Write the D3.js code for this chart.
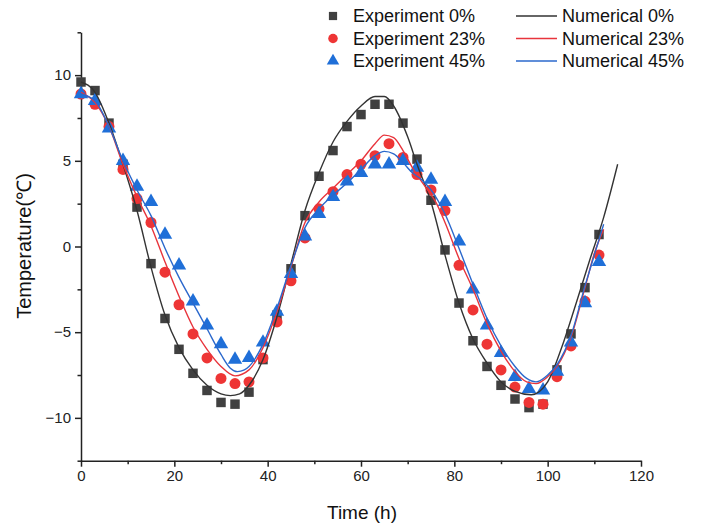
<!DOCTYPE html>
<html><head><meta charset="utf-8">
<script src="https://cdn.jsdelivr.net/npm/d3@7"></script>
<style>body{margin:0;background:#fff;} svg{display:block;}</style>
</head><body>
<svg id="c" width="703" height="523"></svg>
<script>
// ---- data ----
const expTime = [0,3,6,9,12,15,18,21,24,27,30,33,36,39,42,45,48,51,54,57,60,63,66,69,72,75,78,81,84,87,90,93,96,99,102,105,108,111];
const exp0  = [9.6,9.1,7.2,4.8,2.3,-1.0,-4.2,-6.0,-7.4,-8.4,-9.1,-9.2,-8.5,-6.6,-4.0,-1.3,1.8,4.1,5.6,7.0,7.7,8.3,8.3,7.2,5.1,2.7,-0.2,-3.3,-5.5,-7.0,-8.1,-8.9,-9.4,-9.2,-7.2,-5.1,-2.4,0.7];
const exp23 = [8.9,8.3,7.0,4.5,2.8,1.4,-1.5,-3.4,-5.1,-6.5,-7.7,-8.0,-7.9,-6.5,-4.4,-2.0,0.5,2.2,3.2,4.2,4.8,5.3,6.0,5.2,4.2,3.3,2.1,-1.1,-3.7,-5.7,-7.2,-8.2,-9.1,-9.2,-7.6,-5.8,-3.2,-0.5];
const exp45 = [8.9,8.5,6.9,5.0,3.5,2.6,0.7,-1.1,-3.2,-4.6,-5.7,-6.6,-6.5,-5.6,-3.8,-1.6,0.6,1.9,2.9,3.8,4.3,4.8,4.8,5.0,4.6,3.9,2.6,0.3,-2.5,-4.6,-6.2,-7.6,-8.3,-8.4,-7.3,-5.6,-3.3,-0.9];

const numTime0 = [0,3,6,9,12,15,18,21,24,27,30,32,34,36,39,42,45,48,51,54,57,60,63,65,67,70,72,75,78,81,84,87,90,93,96.5,100,103,106,109,112,115];
const num0     = [9.6,9.0,7.2,4.8,2.1,-1.2,-4.0,-5.9,-7.2,-8.1,-8.6,-8.7,-8.6,-8.1,-6.6,-4.1,-1.0,2.1,4.3,6.1,7.3,8.2,8.75,8.75,8.2,6.4,4.8,2.6,-0.5,-3.3,-5.4,-6.8,-7.9,-8.45,-8.65,-7.9,-5.9,-3.4,-0.8,1.7,4.8];
const numTime23 = [0,3,6,9,12,15,18,21,24,27,30,33,36,39,42,45,48,51,54,57,60,63,65,67,69,71,74,76,78,81,84,87,90,93,95.5,97.5,100,102,105,108,110,112];
const num23     = [9.0,8.4,7.0,4.8,2.9,1.2,-0.9,-2.9,-4.7,-6.0,-7.0,-7.55,-7.2,-5.9,-3.8,-1.2,1.4,2.6,3.4,4.2,5.0,6.0,6.5,6.35,5.6,4.6,3.4,2.6,1.4,-0.7,-2.5,-4.5,-6.1,-7.3,-7.9,-8.0,-7.6,-7.0,-5.3,-2.4,-0.4,1.0];
const numTime45 = [0,3,6,9,12,15,18,21,24,27,30,32,33.5,35,36,39,42,45,48,51,54,57,60,63,65,67,69,71,73,75,78,81,84,87,90,93,95.5,97.5,100,102,105,108,110,112];
const num45     = [8.9,8.5,7.0,5.0,3.3,1.8,-0.1,-1.8,-3.3,-4.8,-6.3,-7.1,-7.3,-7.2,-7.0,-5.7,-3.6,-1.1,1.1,2.2,3.0,3.7,4.5,5.3,5.55,5.4,4.9,4.3,3.9,3.3,1.9,-0.1,-2.2,-4.2,-5.8,-7.0,-7.7,-7.9,-7.5,-6.9,-5.2,-2.3,-0.5,1.3];

const xTicks = [0,20,40,60,80,100,120];
const yTicks = [-10,-5,0,5,10];
const expLabels = ["Experiment 0%","Experiment 23%","Experiment 45%"];
const numLabels = ["Numerical 0%","Numerical 23%","Numerical 45%"];
const xTitle = "Time (h)";
const yTitle = "Temperature(\u2103)";

// ---- style ----
const colors = ["#404040","#ee3535","#1f6fd8"];
const lineColors = ["#333333","#e8343c","#2b68cc"];
const font = "'Liberation Sans', Arial, sans-serif";

const svg = d3.select("#c");
const x = d3.scaleLinear().domain([0,120]).range([81,641]);
const y = d3.scaleLinear().domain([-12.5,12.5]).range([460.7,32.3]);

const g = svg.append("g");

// axes
const xAxis = d3.axisBottom(x).tickValues(xTicks).tickSize(6).tickPadding(4).tickFormat(d3.format("d"));
const xMinor = d3.axisBottom(x).tickValues(d3.range(10,120,20)).tickSize(3.5).tickFormat("");
const yAxis = d3.axisLeft(y).tickValues(yTicks).tickSize(6).tickPadding(4).tickFormat(d=>d<0?"\u2212"+Math.abs(d):d);
const yMinor = d3.axisLeft(y).tickValues([-12.5,-7.5,-2.5,2.5,7.5,12.5]).tickSize(3.5).tickFormat("");

function styleAxis(sel){
  sel.select(".domain").attr("stroke","#222").attr("stroke-width",1.5);
  sel.selectAll(".tick line").attr("stroke","#222").attr("stroke-width",1.5);
  sel.selectAll(".tick text").attr("fill","#222").style("font-family",font).style("font-size","15px");
}
const gx = g.append("g").attr("transform",`translate(0,${y(-12.5)})`).call(xAxis.tickSizeOuter(0)); styleAxis(gx);
const gxm = g.append("g").attr("transform",`translate(0,${y(-12.5)})`).call(xMinor.tickSizeOuter(0)); styleAxis(gxm); gxm.select(".domain").remove();
const gy = g.append("g").attr("transform",`translate(${x(0)},0)`).call(yAxis.tickSizeOuter(0)); styleAxis(gy);
const gym = g.append("g").attr("transform",`translate(${x(0)},0)`).call(yMinor.tickSizeOuter(0)); styleAxis(gym); gym.select(".domain").remove();

// titles
g.append("text").attr("x",362).attr("y",519).attr("text-anchor","middle")
  .style("font-family",font).style("font-size","19px").attr("fill","#111").text(xTitle);
g.append("text").attr("transform",`translate(31,246) rotate(-90)`).attr("text-anchor","middle")
  .style("font-family",font).style("font-size","20px").attr("fill","#111").text(yTitle);

// markers
const exps = [exp0, exp23, exp45];
const shapes = [d3.symbolSquare, d3.symbolCircle, d3.symbolTriangle];
const sizes = [90, 95, 90];
exps.forEach((arr,i)=>{
  g.append("g").selectAll("path").data(expTime.map((t,j)=>[t,arr[j]])).join("path")
    .attr("d", d3.symbol().type(shapes[i]).size(sizes[i]))
    .attr("transform", d=>`translate(${x(d[0])},${y(d[1])})`)
    .attr("fill", colors[i]);
});

// lines
const nums = [[numTime0,num0],[numTime23,num23],[numTime45,num45]];
const line = d3.line().x(d=>x(d[0])).y(d=>y(d[1])).curve(d3.curveMonotoneX);
nums.forEach(([tt,vv],i)=>{
  g.append("path").datum(tt.map((t,j)=>[t,vv[j]]))
    .attr("d", line).attr("fill","none").attr("stroke",lineColors[i]).attr("stroke-width",1.4);
});

// legend
const legY = [16, 38.5, 61];
const leg = g.append("g");
expLabels.forEach((lab,i)=>{
  leg.append("path").attr("d", d3.symbol().type(shapes[i]).size(sizes[i]*0.75)())
    .attr("transform",`translate(333,${legY[i]})`).attr("fill",colors[i]);
  leg.append("text").attr("x",353).attr("y",legY[i]).attr("dy","0.35em")
    .style("font-family",font).style("font-size","18px").attr("fill","#111").text(lab);
});
numLabels.forEach((lab,i)=>{
  leg.append("line").attr("x1",516).attr("x2",557).attr("y1",legY[i]).attr("y2",legY[i])
    .attr("stroke",lineColors[i]).attr("stroke-width",1.5);
  leg.append("text").attr("x",562).attr("y",legY[i]).attr("dy","0.35em")
    .style("font-family",font).style("font-size","18px").attr("fill","#111").text(lab);
});
</script>
</body></html>
